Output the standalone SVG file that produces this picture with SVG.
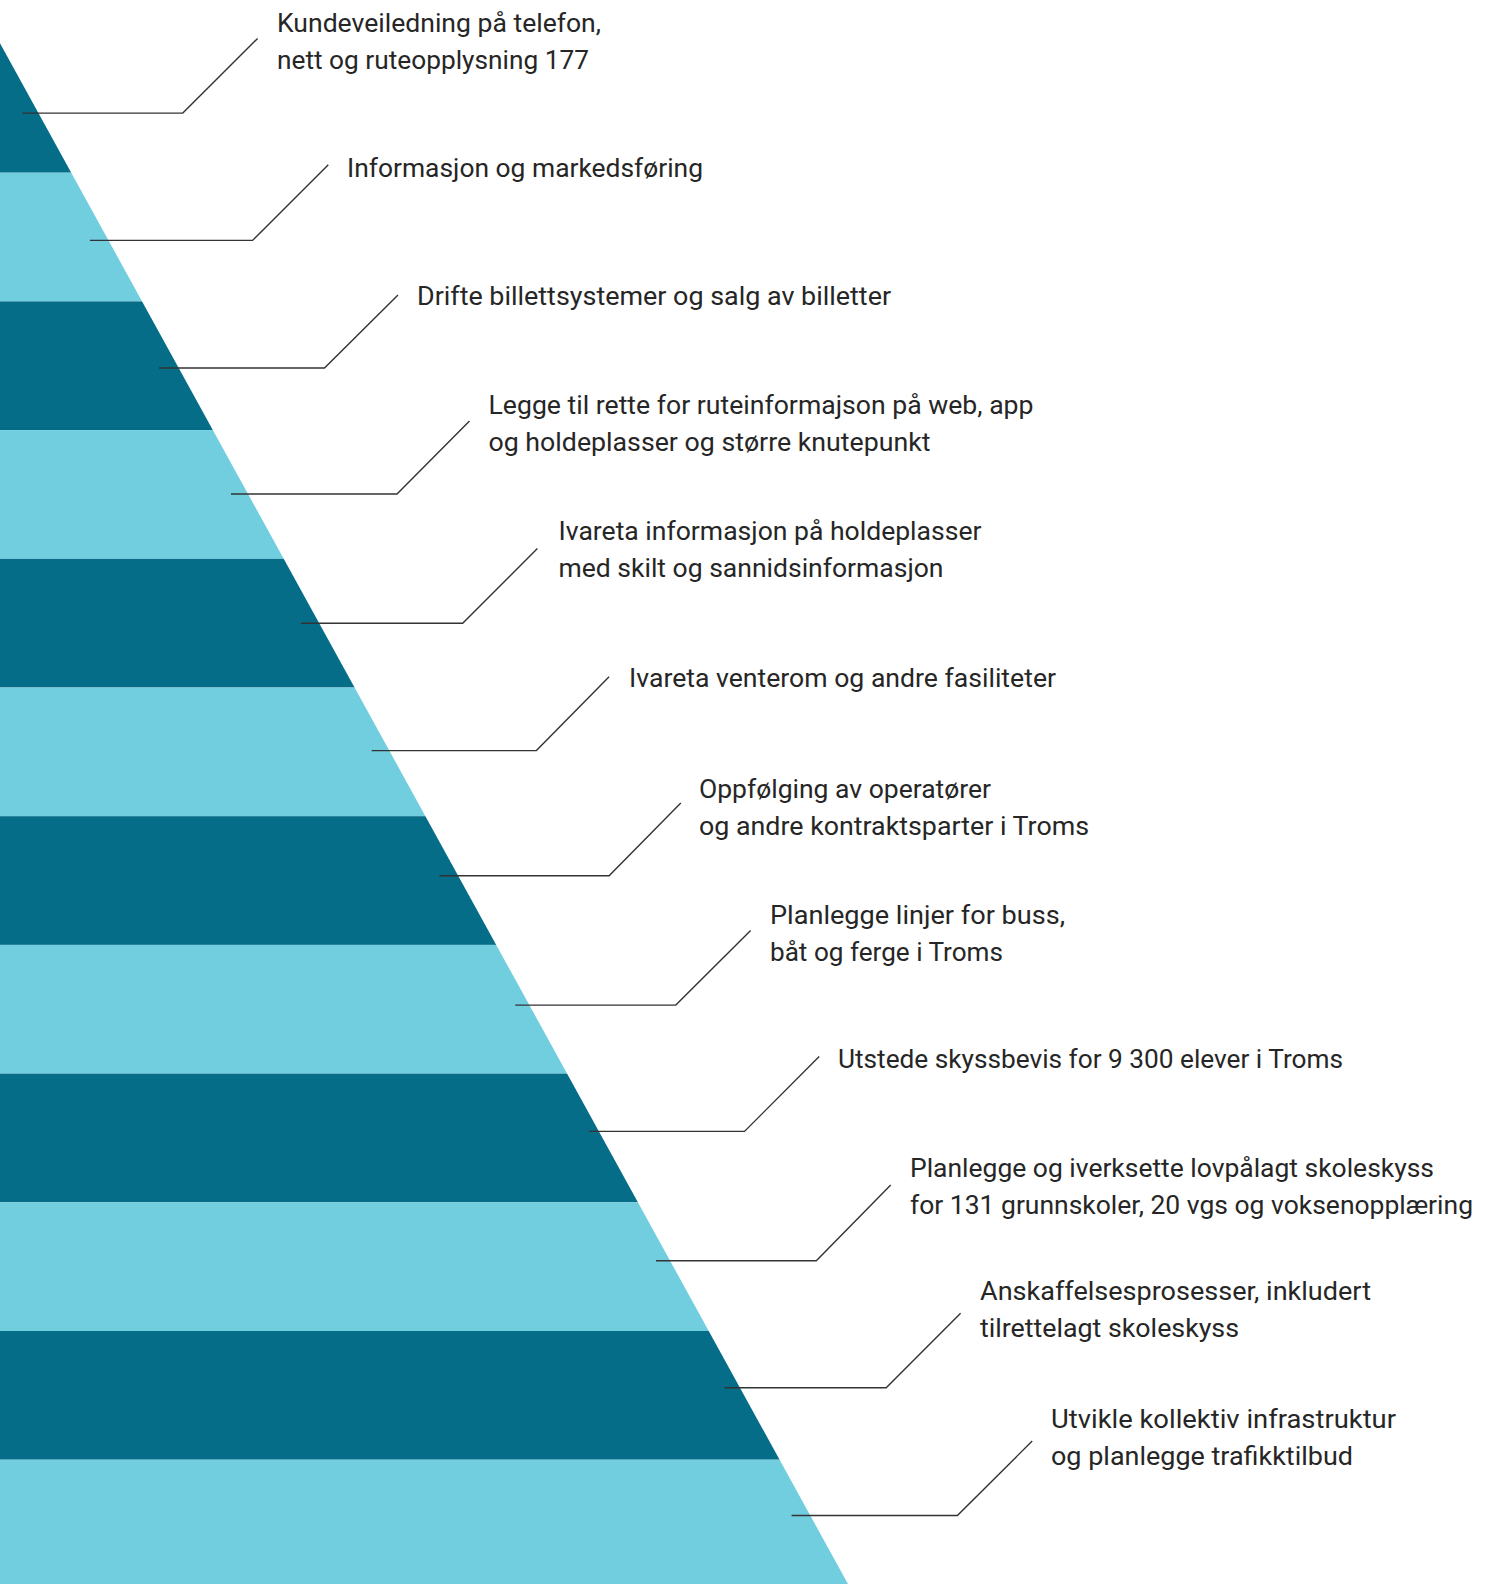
<svg xmlns="http://www.w3.org/2000/svg" width="1493" height="1584" viewBox="0 0 1493 1584">
<defs>
<style>
.dark{fill:#066D89}
.light{fill:#71CEDF}
.lead{fill:none;stroke:#333333;stroke-width:1.4}
.lbl{font-family:Roboto,"Liberation Sans",sans-serif;font-size:25.5px;fill:#262626}
</style>
<clipPath id="tri"><polygon points="0,43.3 848,1584 0,1584"/></clipPath>
</defs>
<rect width="1493" height="1584" fill="#ffffff"/>
<g id="pyramid" clip-path="url(#tri)">
<rect class="dark" x="0" y="0" width="900" height="172.7"/>
<rect class="light" x="0" y="172.7" width="900" height="128.7"/>
<rect class="dark" x="0" y="301.4" width="900" height="128.7"/>
<rect class="light" x="0" y="430.1" width="900" height="128.7"/>
<rect class="dark" x="0" y="558.8" width="900" height="128.7"/>
<rect class="light" x="0" y="687.5" width="900" height="128.7"/>
<rect class="dark" x="0" y="816.2" width="900" height="128.7"/>
<rect class="light" x="0" y="944.9" width="900" height="128.7"/>
<rect class="dark" x="0" y="1073.6" width="900" height="128.7"/>
<rect class="light" x="0" y="1202.3" width="900" height="128.7"/>
<rect class="dark" x="0" y="1331" width="900" height="128.7"/>
<rect class="light" x="0" y="1459.7" width="900" height="130"/>
</g>
<g id="connectors">
<polyline class="lead" points="22.2,113.1 182.8,113.1 257.6,38.4"/>
<polyline class="lead" points="89.9,240.4 252.5,240.4 328.3,164.7"/>
<polyline class="lead" points="159,368 324.5,368 398,295"/>
<polyline class="lead" points="231,494 397,494 469.5,421"/>
<polyline class="lead" points="301,623.3 462.7,623.3 537.4,548.5"/>
<polyline class="lead" points="371.7,750.6 536.4,750.6 609.1,676.8"/>
<polyline class="lead" points="439.4,875.8 609.1,875.8 680.8,803.1"/>
<polyline class="lead" points="515.2,1005.1 675.8,1005.1 750.6,930.4"/>
<polyline class="lead" points="588.9,1131.4 744.5,1131.4 819.2,1056.6"/>
<polyline class="lead" points="656,1260.7 816.3,1260.7 890.7,1185"/>
<polyline class="lead" points="724.5,1387.8 886.2,1387.8 960.6,1313.2"/>
<polyline class="lead" points="791.6,1515.5 957.4,1515.5 1032.2,1441"/>
</g>
<g id="label1"><text class="lbl" x="277" y="31.5" textLength="324" lengthAdjust="spacingAndGlyphs">Kundeveiledning på telefon,</text><text class="lbl" x="277" y="68.5" textLength="312" lengthAdjust="spacingAndGlyphs">nett og ruteopplysning 177</text></g>
<g id="label2"><text class="lbl" x="347" y="177" textLength="356" lengthAdjust="spacingAndGlyphs">Informasjon og markedsføring</text></g>
<g id="label3"><text class="lbl" x="417" y="305" textLength="474" lengthAdjust="spacingAndGlyphs">Drifte billettsystemer og salg av billetter</text></g>
<g id="label4"><text class="lbl" x="488.5" y="414" textLength="545" lengthAdjust="spacingAndGlyphs">Legge til rette for ruteinformajson på web, app</text><text class="lbl" x="488.5" y="451" textLength="442" lengthAdjust="spacingAndGlyphs">og holdeplasser og større knutepunkt</text></g>
<g id="label5"><text class="lbl" x="558.5" y="540" textLength="423" lengthAdjust="spacingAndGlyphs">Ivareta informasjon på holdeplasser</text><text class="lbl" x="558.5" y="577" textLength="385" lengthAdjust="spacingAndGlyphs">med skilt og sannidsinformasjon</text></g>
<g id="label6"><text class="lbl" x="629" y="687" textLength="427" lengthAdjust="spacingAndGlyphs">Ivareta venterom og andre fasiliteter</text></g>
<g id="label7"><text class="lbl" x="699" y="798" textLength="292" lengthAdjust="spacingAndGlyphs">Oppfølging av operatører</text><text class="lbl" x="699" y="835" textLength="390" lengthAdjust="spacingAndGlyphs">og andre kontraktsparter i Troms</text></g>
<g id="label8"><text class="lbl" x="770" y="924" textLength="295" lengthAdjust="spacingAndGlyphs">Planlegge linjer for buss,</text><text class="lbl" x="770" y="961" textLength="233" lengthAdjust="spacingAndGlyphs">båt og ferge i Troms</text></g>
<g id="label9"><text class="lbl" x="838" y="1068" textLength="505" lengthAdjust="spacingAndGlyphs">Utstede skyssbevis for 9 300 elever i Troms</text></g>
<g id="label10"><text class="lbl" x="910" y="1177" textLength="524" lengthAdjust="spacingAndGlyphs">Planlegge og iverksette lovpålagt skoleskyss</text><text class="lbl" x="910" y="1214" textLength="563" lengthAdjust="spacingAndGlyphs">for 131 grunnskoler, 20 vgs og voksenopplæring</text></g>
<g id="label11"><text class="lbl" x="980" y="1300" textLength="391" lengthAdjust="spacingAndGlyphs">Anskaffelsesprosesser, inkludert</text><text class="lbl" x="980" y="1337" textLength="259" lengthAdjust="spacingAndGlyphs">tilrettelagt skoleskyss</text></g>
<g id="label12"><text class="lbl" x="1051" y="1428" textLength="345" lengthAdjust="spacingAndGlyphs">Utvikle kollektiv infrastruktur</text><text class="lbl" x="1051" y="1465" textLength="302" lengthAdjust="spacingAndGlyphs">og planlegge trafikktilbud</text></g>
</svg>
